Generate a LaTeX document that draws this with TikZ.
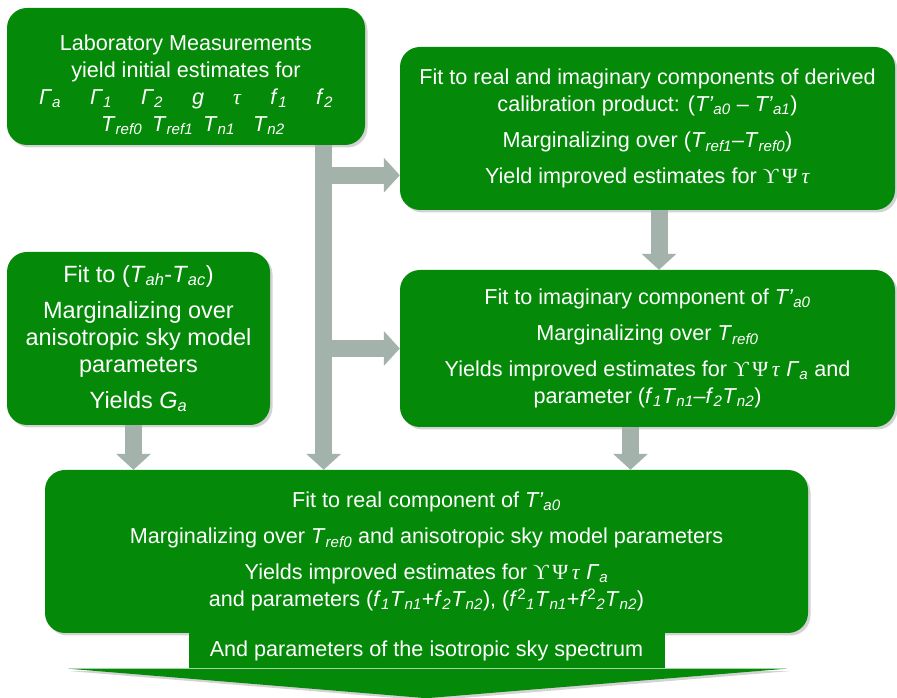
\documentclass[tikz,border=0pt]{standalone}
\usepackage{fontspec}
\setmainfont{Liberation Sans}
\newfontfamily\symbfont{Liberation Serif}
\usetikzlibrary{calc}
\usetikzlibrary{arrows.meta}
\usetikzlibrary{shadows}
\definecolor{boxgreen}{RGB}{4,138,8}
\definecolor{flowgrey}{RGB}{163,178,171}
\tikzstyle{stagebox} = [rectangle, rounded corners=20pt, fill=boxgreen, text=white,
                        drop shadow={shadow xshift=2.5pt,shadow yshift=-2.5pt,opacity=0.35},
                        align=center, inner sep=0pt,
                        font=\fontsize{21.6}{27}\selectfont]
\tikzstyle{greyflow} = [draw=flowgrey, line width=17pt,
                        -{Triangle[width=34pt,length=16pt]}]
\newcommand{\vsub}[2]{\textit{#1}\textsubscript{\textit{#2}}}
\newcommand{\ups}{{\symbfont ϒ\,Ψ\,\textit{τ}}}
\newcommand{\gsp}{\hspace{29pt}}

\begin{document}
\begin{tikzpicture}[x=1pt,y=1pt]
    \useasboundingbox (0,0) rectangle (897,698);
    \node[stagebox, minimum width=358pt, minimum height=137pt] (lab) at (186,621.5)
        {\rule{0pt}{32pt}Laboratory Measurements\\yield initial estimates for\\
         \vsub{Γ}{a}\gsp\vsub{Γ}{1}\gsp\vsub{Γ}{2}\gsp\textit{g}\gsp{\symbfont\textit{τ}}\gsp\vsub{f}{1}\gsp\vsub{f}{2}\\
         \hspace{14pt}\vsub{T}{ref0}\hspace{10pt}\vsub{T}{ref1}\hspace{10pt}\vsub{T}{n1}\hspace{18pt}\vsub{T}{n2}};
    \node[stagebox, minimum width=495pt, minimum height=163pt] (fit) at (647.5,569.5)
        {Fit to real and imaginary components of derived\\
         calibration product: (\vsub{T’}{a0} – \vsub{T’}{a1})\\[9pt]
         Marginalizing over (\vsub{T}{ref1}–\vsub{T}{ref0})\\[9pt]
         Yield improved estimates for \ups};
    \node[stagebox, minimum width=495pt, minimum height=157pt] (imag) [below of=fit,node distance=220pt]
        {Fit to imaginary component of \vsub{T’}{a0}\\[9pt]
         Marginalizing over \vsub{T}{ref0}\\[9pt]
         Yields improved estimates for \ups\ \vsub{Γ}{a} and\\
         parameter (\vsub{f}{1}\vsub{T}{n1}–\vsub{f}{2}\vsub{T}{n2})};
    \node[stagebox, minimum width=263pt, minimum height=173pt,
          font=\fontsize{23.5}{27}\selectfont] (tah) at (138.5,359.5)
        {Fit to (\vsub{T}{ah}-\vsub{T}{ac})\\[9pt]
         Marginalizing over\\anisotropic sky model\\parameters\\[9pt]
         Yields \vsub{G}{a}};
    \node[stagebox, minimum width=763pt, minimum height=163pt] (real) at (426.5,146.5)
        {Fit to real component of \vsub{T’}{a0}\\[9pt]
         Marginalizing over \vsub{T}{ref0} and anisotropic sky model parameters\\[9pt]
         Yields improved estimates for \ups\ \vsub{Γ}{a}\\
         and parameters (\vsub{f}{1}\vsub{T}{n1}+\vsub{f}{2}\vsub{T}{n2}),
         (\textit{f}\textsuperscript{2}\textsubscript{\textit{1}}\vsub{T}{n1}+\textit{f}\textsuperscript{2}\textsubscript{\textit{2}}\vsub{T}{n2})};
    \node[rectangle, fill=boxgreen, text=white, inner sep=0pt, minimum width=476pt, minimum height=35pt,
          font=\fontsize{21.6}{27}\selectfont] (iso) [below of=real,node distance=99.5pt]
        {And parameters of the isotropic sky spectrum};
    \fill[boxgreen, drop shadow={shadow xshift=2.5pt,shadow yshift=-2.5pt,opacity=0.35}]
        ($(iso.south west)+(-120,0)$) -- ($(iso.south east)+(122,0)$) -- ($(iso.south)+(0,-29.5)$) -- cycle;
    % grey feeds
    \coordinate (trunk) at ($(lab.south east)+(-41.5,0)$);
    \coordinate (tap) at ($(fit.south west)+(0,35)$);
    \draw[greyflow] (trunk) -- (trunk |- real.north);
    \draw[greyflow] (trunk |- tap) -- (tap);
    \draw[greyflow] (trunk |- imag.west) -- (imag.west);
    \draw[greyflow] ([xshift=11.5pt]fit.south) -- ([xshift=11.5pt]imag.north);
    \draw[greyflow] ([xshift=-5pt]tah.south) -- ([xshift=-5pt]tah.south |- real.north);
    \draw[greyflow] ([xshift=-17pt]imag.south) -- ([xshift=-17pt]imag.south |- real.north);
\end{tikzpicture}
\end{document}
